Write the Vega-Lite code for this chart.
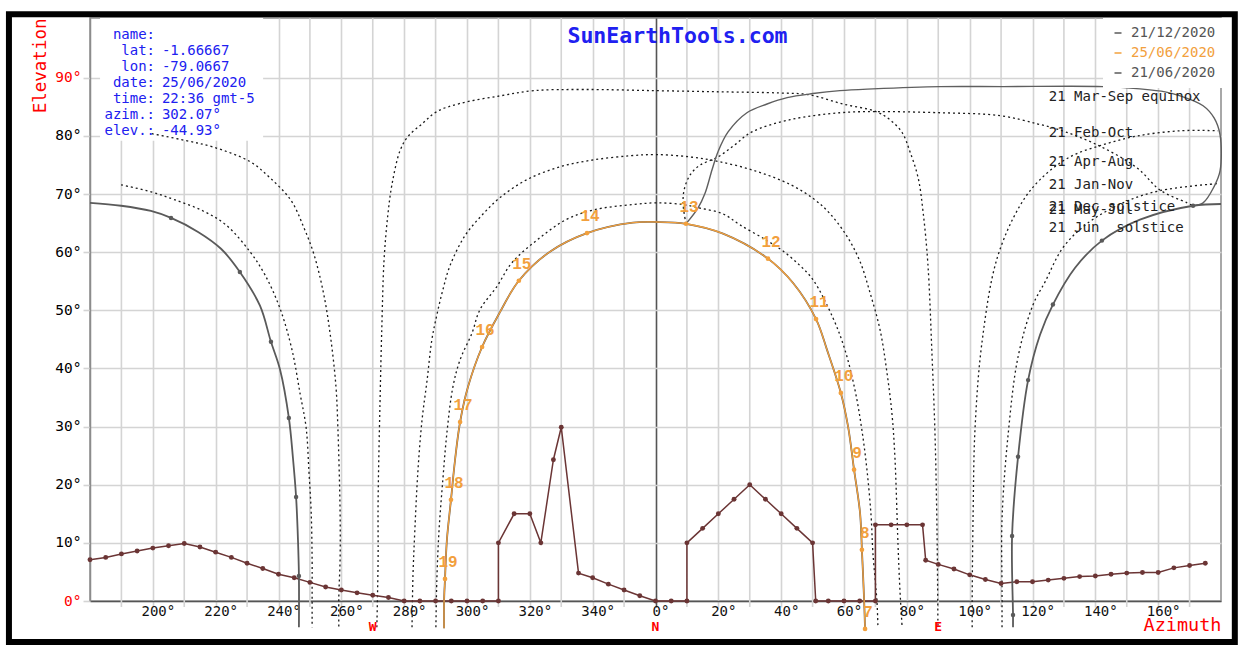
{
  "$schema": "https://vega.github.io/schema/vega-lite/v6.json",
  "width": 1131,
  "height": 583,
  "autosize": {"type": "none"},
  "padding": {"left": 90, "top": 18, "right": 18, "bottom": 44},
  "background": "white",
  "config": {
    "view": {"stroke": "#8c8c8c", "strokeWidth": 1.5},
    "font": "DejaVu Sans Mono",
    "axis": {"labelFont": "DejaVu Sans Mono", "titleFont": "DejaVu Sans Mono"}
  },
  "title": {"text": "SunEarthTools.com", "color": "#2020f0", "font": "DejaVu Sans Mono", "fontSize": 21.5, "fontWeight": "bold", "anchor": "middle", "frame": "group", "dx": 22, "offset": -47, "baseline": "middle"},
  "datasets": {
    "sun": [
      {"series": "25/06/2020", "part": "A", "i": 0, "az": 66.7, "el": -4.8, "hour": 7},
      {"series": "25/06/2020", "part": "A", "i": 1, "az": 66.4, "el": 0.2},
      {"series": "25/06/2020", "part": "A", "i": 2, "az": 65.7, "el": 8.8, "hour": 8},
      {"series": "25/06/2020", "part": "A", "i": 3, "az": 65.1, "el": 15.2},
      {"series": "25/06/2020", "part": "A", "i": 4, "az": 63.2, "el": 22.6, "hour": 9},
      {"series": "25/06/2020", "part": "A", "i": 5, "az": 61.3, "el": 30.0},
      {"series": "25/06/2020", "part": "A", "i": 6, "az": 59.0, "el": 35.8, "hour": 10},
      {"series": "25/06/2020", "part": "A", "i": 7, "az": 54.6, "el": 43.2},
      {"series": "25/06/2020", "part": "A", "i": 8, "az": 51.1, "el": 48.5, "hour": 11},
      {"series": "25/06/2020", "part": "A", "i": 9, "az": 43.8, "el": 54.7},
      {"series": "25/06/2020", "part": "A", "i": 10, "az": 35.8, "el": 58.9, "hour": 12},
      {"series": "25/06/2020", "part": "A", "i": 11, "az": 21.5, "el": 63.2},
      {"series": "25/06/2020", "part": "A", "i": 12, "az": 9.7, "el": 64.9, "hour": 13},
      {"series": "25/06/2020", "part": "A", "i": 13, "az": 0.5, "el": 65.2},
      {"series": "25/06/2020", "part": "A", "i": 14, "az": -7.2, "el": 65.1},
      {"series": "25/06/2020", "part": "A", "i": 15, "az": -21.8, "el": 63.3, "hour": 14},
      {"series": "25/06/2020", "part": "A", "i": 16, "az": -33.6, "el": 60.1},
      {"series": "25/06/2020", "part": "A", "i": 17, "az": -43.5, "el": 55.1, "hour": 15},
      {"series": "25/06/2020", "part": "A", "i": 18, "az": -49.5, "el": 49.7},
      {"series": "25/06/2020", "part": "A", "i": 19, "az": -55.2, "el": 43.7, "hour": 16},
      {"series": "25/06/2020", "part": "A", "i": 20, "az": -59.7, "el": 36.8},
      {"series": "25/06/2020", "part": "A", "i": 21, "az": -62.2, "el": 30.8, "hour": 17},
      {"series": "25/06/2020", "part": "A", "i": 22, "az": -63.8, "el": 24.3},
      {"series": "25/06/2020", "part": "A", "i": 23, "az": -65.1, "el": 17.4, "hour": 18},
      {"series": "25/06/2020", "part": "A", "i": 24, "az": -66.4, "el": 10.5},
      {"series": "25/06/2020", "part": "A", "i": 25, "az": -67.0, "el": 3.8, "hour": 19},
      {"series": "25/06/2020", "part": "A", "i": 26, "az": -67.3, "el": 0.0},
      {"series": "25/06/2020", "part": "A", "i": 27, "az": -67.3, "el": -4.7},
      {"series": "21/06/2020", "part": "A", "i": 0, "az": 66.7, "el": -4.8},
      {"series": "21/06/2020", "part": "A", "i": 1, "az": 66.4, "el": 0.2},
      {"series": "21/06/2020", "part": "A", "i": 2, "az": 65.7, "el": 8.8},
      {"series": "21/06/2020", "part": "A", "i": 3, "az": 65.1, "el": 15.2},
      {"series": "21/06/2020", "part": "A", "i": 4, "az": 63.2, "el": 22.6},
      {"series": "21/06/2020", "part": "A", "i": 5, "az": 61.3, "el": 30.0},
      {"series": "21/06/2020", "part": "A", "i": 6, "az": 59.0, "el": 35.8},
      {"series": "21/06/2020", "part": "A", "i": 7, "az": 54.6, "el": 43.2},
      {"series": "21/06/2020", "part": "A", "i": 8, "az": 51.1, "el": 48.5},
      {"series": "21/06/2020", "part": "A", "i": 9, "az": 43.8, "el": 54.7},
      {"series": "21/06/2020", "part": "A", "i": 10, "az": 35.8, "el": 58.9},
      {"series": "21/06/2020", "part": "A", "i": 11, "az": 21.5, "el": 63.2},
      {"series": "21/06/2020", "part": "A", "i": 12, "az": 9.7, "el": 64.9},
      {"series": "21/06/2020", "part": "A", "i": 13, "az": 0.5, "el": 65.2},
      {"series": "21/06/2020", "part": "A", "i": 14, "az": -7.2, "el": 65.1},
      {"series": "21/06/2020", "part": "A", "i": 15, "az": -21.8, "el": 63.3},
      {"series": "21/06/2020", "part": "A", "i": 16, "az": -33.6, "el": 60.1},
      {"series": "21/06/2020", "part": "A", "i": 17, "az": -43.5, "el": 55.1},
      {"series": "21/06/2020", "part": "A", "i": 18, "az": -49.5, "el": 49.7},
      {"series": "21/06/2020", "part": "A", "i": 19, "az": -55.2, "el": 43.7},
      {"series": "21/06/2020", "part": "A", "i": 20, "az": -59.7, "el": 36.8},
      {"series": "21/06/2020", "part": "A", "i": 21, "az": -62.2, "el": 30.8},
      {"series": "21/06/2020", "part": "A", "i": 22, "az": -63.8, "el": 24.3},
      {"series": "21/06/2020", "part": "A", "i": 23, "az": -65.1, "el": 17.4},
      {"series": "21/06/2020", "part": "A", "i": 24, "az": -66.4, "el": 10.5},
      {"series": "21/06/2020", "part": "A", "i": 25, "az": -67.0, "el": 3.8},
      {"series": "21/06/2020", "part": "A", "i": 26, "az": -67.3, "el": 0.0},
      {"series": "21/06/2020", "part": "A", "i": 27, "az": -67.3, "el": -4.7},
      {"series": "21/12/2020", "part": "L", "i": 0, "az": -180.0, "el": 68.5},
      {"series": "21/12/2020", "part": "L", "i": 1, "az": -170.1, "el": 68.0},
      {"series": "21/12/2020", "part": "L", "i": 2, "az": -160.6, "el": 67.1},
      {"series": "21/12/2020", "part": "L", "i": 3, "az": -154.2, "el": 65.9, "hour": 13},
      {"series": "21/12/2020", "part": "L", "i": 4, "az": -145.6, "el": 63.5},
      {"series": "21/12/2020", "part": "L", "i": 5, "az": -138.3, "el": 60.6},
      {"series": "21/12/2020", "part": "L", "i": 6, "az": -132.3, "el": 56.6, "hour": 14},
      {"series": "21/12/2020", "part": "L", "i": 7, "az": -125.9, "el": 50.8},
      {"series": "21/12/2020", "part": "L", "i": 8, "az": -122.4, "el": 44.6, "hour": 15},
      {"series": "21/12/2020", "part": "L", "i": 9, "az": -119.5, "el": 39.8},
      {"series": "21/12/2020", "part": "L", "i": 10, "az": -116.7, "el": 31.5, "hour": 16},
      {"series": "21/12/2020", "part": "L", "i": 11, "az": -115.4, "el": 24.6},
      {"series": "21/12/2020", "part": "L", "i": 12, "az": -114.4, "el": 17.9, "hour": 17},
      {"series": "21/12/2020", "part": "L", "i": 13, "az": -113.8, "el": 10.5},
      {"series": "21/12/2020", "part": "L", "i": 14, "az": -113.5, "el": 4.3, "hour": 18},
      {"series": "21/12/2020", "part": "L", "i": 15, "az": -113.5, "el": -4.5},
      {"series": "21/12/2020", "part": "R", "i": 0, "az": 113.8, "el": -4.5},
      {"series": "21/12/2020", "part": "R", "i": 1, "az": 113.8, "el": -2.4, "hour": 6},
      {"series": "21/12/2020", "part": "R", "i": 2, "az": 113.5, "el": 11.2, "hour": 7},
      {"series": "21/12/2020", "part": "R", "i": 3, "az": 115.4, "el": 24.8, "hour": 8},
      {"series": "21/12/2020", "part": "R", "i": 4, "az": 118.6, "el": 38.0, "hour": 9},
      {"series": "21/12/2020", "part": "R", "i": 5, "az": 122.4, "el": 45.8},
      {"series": "21/12/2020", "part": "R", "i": 6, "az": 126.5, "el": 51.0, "hour": 10},
      {"series": "21/12/2020", "part": "R", "i": 7, "az": 133.5, "el": 57.3},
      {"series": "21/12/2020", "part": "R", "i": 8, "az": 142.1, "el": 62.0, "hour": 11},
      {"series": "21/12/2020", "part": "R", "i": 9, "az": 154.2, "el": 65.6},
      {"series": "21/12/2020", "part": "R", "i": 10, "az": 171.1, "el": 68.0, "hour": 12},
      {"series": "21/12/2020", "part": "R", "i": 11, "az": 180.0, "el": 68.3}
    ],
    "months": [
      {"month": "Mar-Sep", "part": "A", "i": 0, "az": -88.7, "el": -4.5},
      {"month": "Mar-Sep", "part": "A", "i": 1, "az": -88.3, "el": 7.1},
      {"month": "Mar-Sep", "part": "A", "i": 2, "az": -88.3, "el": 17.0},
      {"month": "Mar-Sep", "part": "A", "i": 3, "az": -87.7, "el": 33.9},
      {"month": "Mar-Sep", "part": "A", "i": 4, "az": -87.1, "el": 47.3},
      {"month": "Mar-Sep", "part": "A", "i": 5, "az": -86.4, "el": 58.7},
      {"month": "Mar-Sep", "part": "A", "i": 6, "az": -85.2, "el": 66.4},
      {"month": "Mar-Sep", "part": "A", "i": 7, "az": -83.9, "el": 71.6},
      {"month": "Mar-Sep", "part": "A", "i": 8, "az": -81.3, "el": 77.5},
      {"month": "Mar-Sep", "part": "A", "i": 9, "az": -78.8, "el": 79.9},
      {"month": "Mar-Sep", "part": "A", "i": 10, "az": -74.3, "el": 82.1},
      {"month": "Mar-Sep", "part": "A", "i": 11, "az": -69.6, "el": 84.2},
      {"month": "Mar-Sep", "part": "A", "i": 12, "az": -62.2, "el": 85.6},
      {"month": "Mar-Sep", "part": "A", "i": 13, "az": -49.5, "el": 86.9},
      {"month": "Mar-Sep", "part": "A", "i": 14, "az": -38.7, "el": 87.8},
      {"month": "Mar-Sep", "part": "A", "i": 15, "az": -22.8, "el": 88.0},
      {"month": "Mar-Sep", "part": "A", "i": 16, "az": -0.2, "el": 87.8},
      {"month": "Mar-Sep", "part": "A", "i": 17, "az": 20.5, "el": 87.6},
      {"month": "Mar-Sep", "part": "A", "i": 18, "az": 39.6, "el": 87.4},
      {"month": "Mar-Sep", "part": "A", "i": 19, "az": 48.9, "el": 87.1},
      {"month": "Mar-Sep", "part": "A", "i": 20, "az": 59.7, "el": 85.5},
      {"month": "Mar-Sep", "part": "A", "i": 21, "az": 70.2, "el": 84.2},
      {"month": "Mar-Sep", "part": "A", "i": 22, "az": 74.6, "el": 82.8},
      {"month": "Mar-Sep", "part": "A", "i": 23, "az": 78.5, "el": 80.6},
      {"month": "Mar-Sep", "part": "A", "i": 24, "az": 81.0, "el": 77.3},
      {"month": "Mar-Sep", "part": "A", "i": 25, "az": 83.6, "el": 72.8},
      {"month": "Mar-Sep", "part": "A", "i": 26, "az": 85.2, "el": 66.8},
      {"month": "Mar-Sep", "part": "A", "i": 27, "az": 86.7, "el": 58.0},
      {"month": "Mar-Sep", "part": "A", "i": 28, "az": 88.0, "el": 42.5},
      {"month": "Mar-Sep", "part": "A", "i": 29, "az": 89.0, "el": 28.1},
      {"month": "Mar-Sep", "part": "A", "i": 30, "az": 89.6, "el": 12.2},
      {"month": "Mar-Sep", "part": "A", "i": 31, "az": 89.9, "el": -4.5},
      {"month": "Apr-Aug", "part": "A", "i": 0, "az": -77.5, "el": -4.5},
      {"month": "Apr-Aug", "part": "A", "i": 1, "az": -77.2, "el": 4.3},
      {"month": "Apr-Aug", "part": "A", "i": 2, "az": -76.6, "el": 12.2},
      {"month": "Apr-Aug", "part": "A", "i": 3, "az": -75.6, "el": 22.6},
      {"month": "Apr-Aug", "part": "A", "i": 4, "az": -74.3, "el": 31.2},
      {"month": "Apr-Aug", "part": "A", "i": 5, "az": -72.7, "el": 38.0},
      {"month": "Apr-Aug", "part": "A", "i": 6, "az": -71.2, "el": 44.9},
      {"month": "Apr-Aug", "part": "A", "i": 7, "az": -69.6, "el": 49.2},
      {"month": "Apr-Aug", "part": "A", "i": 8, "az": -67.7, "el": 53.5},
      {"month": "Apr-Aug", "part": "A", "i": 9, "az": -65.4, "el": 57.7},
      {"month": "Apr-Aug", "part": "A", "i": 10, "az": -60.7, "el": 62.8},
      {"month": "Apr-Aug", "part": "A", "i": 11, "az": -55.2, "el": 66.4},
      {"month": "Apr-Aug", "part": "A", "i": 12, "az": -49.5, "el": 69.4},
      {"month": "Apr-Aug", "part": "A", "i": 13, "az": -40.9, "el": 72.5},
      {"month": "Apr-Aug", "part": "A", "i": 14, "az": -30.4, "el": 74.7},
      {"month": "Apr-Aug", "part": "A", "i": 15, "az": -19.6, "el": 75.9},
      {"month": "Apr-Aug", "part": "A", "i": 16, "az": -8.1, "el": 76.6},
      {"month": "Apr-Aug", "part": "A", "i": 17, "az": 0.2, "el": 76.8},
      {"month": "Apr-Aug", "part": "A", "i": 18, "az": 11.0, "el": 76.4},
      {"month": "Apr-Aug", "part": "A", "i": 19, "az": 20.2, "el": 75.6},
      {"month": "Apr-Aug", "part": "A", "i": 20, "az": 31.7, "el": 74.0},
      {"month": "Apr-Aug", "part": "A", "i": 21, "az": 43.1, "el": 71.6},
      {"month": "Apr-Aug", "part": "A", "i": 22, "az": 50.8, "el": 69.0},
      {"month": "Apr-Aug", "part": "A", "i": 23, "az": 55.6, "el": 66.6},
      {"month": "Apr-Aug", "part": "A", "i": 24, "az": 61.0, "el": 62.7},
      {"month": "Apr-Aug", "part": "A", "i": 25, "az": 65.1, "el": 58.4},
      {"month": "Apr-Aug", "part": "A", "i": 26, "az": 68.3, "el": 53.0},
      {"month": "Apr-Aug", "part": "A", "i": 27, "az": 71.5, "el": 46.6},
      {"month": "Apr-Aug", "part": "A", "i": 28, "az": 73.7, "el": 39.2},
      {"month": "Apr-Aug", "part": "A", "i": 29, "az": 75.3, "el": 32.0},
      {"month": "Apr-Aug", "part": "A", "i": 30, "az": 76.2, "el": 24.8},
      {"month": "Apr-Aug", "part": "A", "i": 31, "az": 77.2, "el": 9.6},
      {"month": "Apr-Aug", "part": "A", "i": 32, "az": 77.8, "el": 1.9},
      {"month": "Apr-Aug", "part": "A", "i": 33, "az": 78.5, "el": -4.5},
      {"month": "May-Jul", "part": "A", "i": 0, "az": -69.9, "el": -4.5},
      {"month": "May-Jul", "part": "A", "i": 1, "az": -69.6, "el": 3.6},
      {"month": "May-Jul", "part": "A", "i": 2, "az": -68.9, "el": 12.2},
      {"month": "May-Jul", "part": "A", "i": 3, "az": -67.7, "el": 20.8},
      {"month": "May-Jul", "part": "A", "i": 4, "az": -66.4, "el": 28.9},
      {"month": "May-Jul", "part": "A", "i": 5, "az": -64.5, "el": 36.8},
      {"month": "May-Jul", "part": "A", "i": 6, "az": -62.2, "el": 41.5},
      {"month": "May-Jul", "part": "A", "i": 7, "az": -58.4, "el": 46.1},
      {"month": "May-Jul", "part": "A", "i": 8, "az": -55.9, "el": 50.1},
      {"month": "May-Jul", "part": "A", "i": 9, "az": -50.5, "el": 54.1},
      {"month": "May-Jul", "part": "A", "i": 10, "az": -45.7, "el": 58.2},
      {"month": "May-Jul", "part": "A", "i": 11, "az": -37.7, "el": 62.1},
      {"month": "May-Jul", "part": "A", "i": 12, "az": -28.5, "el": 65.6},
      {"month": "May-Jul", "part": "A", "i": 13, "az": -19.6, "el": 67.3},
      {"month": "May-Jul", "part": "A", "i": 14, "az": -7.2, "el": 68.2},
      {"month": "May-Jul", "part": "A", "i": 15, "az": 0.5, "el": 68.5},
      {"month": "May-Jul", "part": "A", "i": 16, "az": 8.8, "el": 68.2},
      {"month": "May-Jul", "part": "A", "i": 17, "az": 14.2, "el": 67.6},
      {"month": "May-Jul", "part": "A", "i": 18, "az": 21.5, "el": 66.6},
      {"month": "May-Jul", "part": "A", "i": 19, "az": 26.9, "el": 64.7},
      {"month": "May-Jul", "part": "A", "i": 20, "az": 35.2, "el": 62.1},
      {"month": "May-Jul", "part": "A", "i": 21, "az": 40.6, "el": 60.2},
      {"month": "May-Jul", "part": "A", "i": 22, "az": 46.0, "el": 57.7},
      {"month": "May-Jul", "part": "A", "i": 23, "az": 50.1, "el": 55.3},
      {"month": "May-Jul", "part": "A", "i": 24, "az": 56.5, "el": 48.7},
      {"month": "May-Jul", "part": "A", "i": 25, "az": 60.3, "el": 43.2},
      {"month": "May-Jul", "part": "A", "i": 26, "az": 63.5, "el": 36.3},
      {"month": "May-Jul", "part": "A", "i": 27, "az": 65.7, "el": 29.4},
      {"month": "May-Jul", "part": "A", "i": 28, "az": 67.3, "el": 22.6},
      {"month": "May-Jul", "part": "A", "i": 29, "az": 68.6, "el": 14.8},
      {"month": "May-Jul", "part": "A", "i": 30, "az": 69.2, "el": 8.3},
      {"month": "May-Jul", "part": "A", "i": 31, "az": 70.5, "el": -0.2},
      {"month": "May-Jul", "part": "A", "i": 32, "az": 70.8, "el": -4.5},
      {"month": "Jan-Nov", "part": "L", "i": 0, "az": -170.1, "el": 71.6},
      {"month": "Jan-Nov", "part": "L", "i": 1, "az": -160.6, "el": 70.4},
      {"month": "Jan-Nov", "part": "L", "i": 2, "az": -152.9, "el": 69.0},
      {"month": "Jan-Nov", "part": "L", "i": 3, "az": -144.0, "el": 67.1},
      {"month": "Jan-Nov", "part": "L", "i": 4, "az": -136.7, "el": 64.7},
      {"month": "Jan-Nov", "part": "L", "i": 5, "az": -129.1, "el": 60.1},
      {"month": "Jan-Nov", "part": "L", "i": 6, "az": -124.3, "el": 56.1},
      {"month": "Jan-Nov", "part": "L", "i": 7, "az": -119.5, "el": 50.3},
      {"month": "Jan-Nov", "part": "L", "i": 8, "az": -115.7, "el": 43.2},
      {"month": "Jan-Nov", "part": "L", "i": 9, "az": -113.1, "el": 35.6},
      {"month": "Jan-Nov", "part": "L", "i": 10, "az": -111.2, "el": 29.8},
      {"month": "Jan-Nov", "part": "L", "i": 11, "az": -110.3, "el": 22.2},
      {"month": "Jan-Nov", "part": "L", "i": 12, "az": -109.6, "el": 15.3},
      {"month": "Jan-Nov", "part": "L", "i": 13, "az": -109.3, "el": 7.1},
      {"month": "Jan-Nov", "part": "L", "i": 14, "az": -109.3, "el": 1.4},
      {"month": "Jan-Nov", "part": "L", "i": 15, "az": -109.3, "el": -4.5},
      {"month": "Jan-Nov", "part": "R", "i": 0, "az": 110.3, "el": -4.5},
      {"month": "Jan-Nov", "part": "R", "i": 1, "az": 110.3, "el": 1.9},
      {"month": "Jan-Nov", "part": "R", "i": 2, "az": 110.3, "el": 14.1},
      {"month": "Jan-Nov", "part": "R", "i": 3, "az": 112.2, "el": 28.4},
      {"month": "Jan-Nov", "part": "R", "i": 4, "az": 115.4, "el": 42.0},
      {"month": "Jan-Nov", "part": "R", "i": 5, "az": 120.2, "el": 51.0},
      {"month": "Jan-Nov", "part": "R", "i": 6, "az": 124.0, "el": 54.9},
      {"month": "Jan-Nov", "part": "R", "i": 7, "az": 129.7, "el": 60.8},
      {"month": "Jan-Nov", "part": "R", "i": 8, "az": 137.3, "el": 64.9},
      {"month": "Jan-Nov", "part": "R", "i": 9, "az": 148.8, "el": 68.5},
      {"month": "Jan-Nov", "part": "R", "i": 10, "az": 160.6, "el": 70.6},
      {"month": "Jan-Nov", "part": "R", "i": 11, "az": 178.7, "el": 71.8},
      {"month": "Feb-Oct", "part": "L", "i": 0, "az": -160.3, "el": 80.4},
      {"month": "Feb-Oct", "part": "L", "i": 1, "az": -149.4, "el": 79.2},
      {"month": "Feb-Oct", "part": "L", "i": 2, "az": -140.8, "el": 78.1},
      {"month": "Feb-Oct", "part": "L", "i": 3, "az": -129.1, "el": 75.6},
      {"month": "Feb-Oct", "part": "L", "i": 4, "az": -122.7, "el": 72.8},
      {"month": "Feb-Oct", "part": "L", "i": 5, "az": -116.0, "el": 68.9},
      {"month": "Feb-Oct", "part": "L", "i": 6, "az": -111.9, "el": 64.2},
      {"month": "Feb-Oct", "part": "L", "i": 7, "az": -108.7, "el": 59.6},
      {"month": "Feb-Oct", "part": "L", "i": 8, "az": -105.5, "el": 52.5},
      {"month": "Feb-Oct", "part": "L", "i": 9, "az": -103.3, "el": 44.9},
      {"month": "Feb-Oct", "part": "L", "i": 10, "az": -101.7, "el": 36.8},
      {"month": "Feb-Oct", "part": "L", "i": 11, "az": -101.1, "el": 29.8},
      {"month": "Feb-Oct", "part": "L", "i": 12, "az": -100.4, "el": 15.3},
      {"month": "Feb-Oct", "part": "L", "i": 13, "az": -100.4, "el": 7.1},
      {"month": "Feb-Oct", "part": "L", "i": 14, "az": -100.8, "el": 0.7},
      {"month": "Feb-Oct", "part": "L", "i": 15, "az": -100.8, "el": -4.5},
      {"month": "Feb-Oct", "part": "R", "i": 0, "az": 100.8, "el": -4.5},
      {"month": "Feb-Oct", "part": "R", "i": 1, "az": 100.8, "el": 0.2},
      {"month": "Feb-Oct", "part": "R", "i": 2, "az": 101.1, "el": 15.2},
      {"month": "Feb-Oct", "part": "R", "i": 3, "az": 101.7, "el": 29.6},
      {"month": "Feb-Oct", "part": "R", "i": 4, "az": 103.9, "el": 44.4},
      {"month": "Feb-Oct", "part": "R", "i": 5, "az": 108.7, "el": 58.9},
      {"month": "Feb-Oct", "part": "R", "i": 6, "az": 116.0, "el": 68.0},
      {"month": "Feb-Oct", "part": "R", "i": 7, "az": 122.4, "el": 72.5},
      {"month": "Feb-Oct", "part": "R", "i": 8, "az": 131.9, "el": 76.4},
      {"month": "Feb-Oct", "part": "R", "i": 9, "az": 142.5, "el": 78.5},
      {"month": "Feb-Oct", "part": "R", "i": 10, "az": 153.3, "el": 80.0},
      {"month": "Feb-Oct", "part": "R", "i": 11, "az": 167.0, "el": 80.9},
      {"month": "Feb-Oct", "part": "R", "i": 12, "az": 179.1, "el": 80.9}
    ],
    "analemma": [
      {"kind": "solid", "i": 0, "az": 9.7, "el": 64.9},
      {"kind": "solid", "i": 1, "az": 13.5, "el": 67.6},
      {"kind": "solid", "i": 2, "az": 15.8, "el": 70.2},
      {"kind": "solid", "i": 3, "az": 18.0, "el": 74.2},
      {"kind": "solid", "i": 4, "az": 19.9, "el": 77.3},
      {"kind": "solid", "i": 5, "az": 23.1, "el": 80.7},
      {"kind": "solid", "i": 6, "az": 29.1, "el": 84.0},
      {"kind": "solid", "i": 7, "az": 35.5, "el": 85.5},
      {"kind": "solid", "i": 8, "az": 41.9, "el": 86.6},
      {"kind": "solid", "i": 9, "az": 50.1, "el": 87.3},
      {"kind": "solid", "i": 10, "az": 58.7, "el": 87.8},
      {"kind": "solid", "i": 11, "az": 69.2, "el": 88.1},
      {"kind": "solid", "i": 12, "az": 90.6, "el": 88.5},
      {"kind": "solid", "i": 13, "az": 110.6, "el": 88.5},
      {"kind": "solid", "i": 14, "az": 142.5, "el": 88.5},
      {"kind": "solid", "i": 15, "az": 154.2, "el": 88.1},
      {"kind": "solid", "i": 16, "az": 162.2, "el": 87.6},
      {"kind": "solid", "i": 17, "az": 167.0, "el": 86.9},
      {"kind": "solid", "i": 18, "az": 174.3, "el": 85.2},
      {"kind": "solid", "i": 19, "az": 177.8, "el": 83.1},
      {"kind": "solid", "i": 20, "az": 179.7, "el": 80.2},
      {"kind": "solid", "i": 21, "az": 179.7, "el": 74.0},
      {"kind": "solid", "i": 22, "az": 177.8, "el": 71.3},
      {"kind": "solid", "i": 23, "az": 174.3, "el": 68.5},
      {"kind": "solid", "i": 24, "az": 171.1, "el": 68.0},
      {"kind": "dotted", "i": 0, "az": 9.7, "el": 64.9},
      {"kind": "dotted", "i": 1, "az": 8.8, "el": 68.2},
      {"kind": "dotted", "i": 2, "az": 9.1, "el": 70.7},
      {"kind": "dotted", "i": 3, "az": 11.0, "el": 73.3},
      {"kind": "dotted", "i": 4, "az": 14.2, "el": 75.0},
      {"kind": "dotted", "i": 5, "az": 19.9, "el": 76.4},
      {"kind": "dotted", "i": 6, "az": 25.3, "el": 78.5},
      {"kind": "dotted", "i": 7, "az": 30.7, "el": 80.7},
      {"kind": "dotted", "i": 8, "az": 42.8, "el": 82.8},
      {"kind": "dotted", "i": 9, "az": 58.7, "el": 84.0},
      {"kind": "dotted", "i": 10, "az": 70.2, "el": 84.2},
      {"kind": "dotted", "i": 11, "az": 90.6, "el": 84.0},
      {"kind": "dotted", "i": 12, "az": 109.7, "el": 83.5},
      {"kind": "dotted", "i": 13, "az": 121.4, "el": 82.1},
      {"kind": "dotted", "i": 14, "az": 127.8, "el": 81.2},
      {"kind": "dotted", "i": 15, "az": 140.5, "el": 78.5},
      {"kind": "dotted", "i": 16, "az": 153.3, "el": 74.5},
      {"kind": "dotted", "i": 17, "az": 160.6, "el": 70.7},
      {"kind": "dotted", "i": 18, "az": 169.2, "el": 68.5},
      {"kind": "dotted", "i": 19, "az": 171.1, "el": 68.0}
    ],
    "horizon": [
      {"i": 0, "az": -180, "el": 7.1}, {"i": 1, "az": -175, "el": 7.5}, {"i": 2, "az": -170, "el": 8.1},
      {"i": 3, "az": -165, "el": 8.6}, {"i": 4, "az": -160, "el": 9.1}, {"i": 5, "az": -155, "el": 9.5},
      {"i": 6, "az": -150, "el": 9.9}, {"i": 7, "az": -145, "el": 9.3}, {"i": 8, "az": -140, "el": 8.4},
      {"i": 9, "az": -135, "el": 7.5}, {"i": 10, "az": -130, "el": 6.5}, {"i": 11, "az": -125, "el": 5.6},
      {"i": 12, "az": -120, "el": 4.6}, {"i": 13, "az": -115, "el": 4.0}, {"i": 14, "az": -110, "el": 3.2},
      {"i": 15, "az": -105, "el": 2.4}, {"i": 16, "az": -100, "el": 1.9}, {"i": 17, "az": -95, "el": 1.4},
      {"i": 18, "az": -90, "el": 1.0}, {"i": 19, "az": -85, "el": 0.6}, {"i": 20, "az": -80, "el": 0},
      {"i": 21, "az": -75, "el": 0}, {"i": 22, "az": -70, "el": 0}, {"i": 23, "az": -65, "el": 0},
      {"i": 24, "az": -60, "el": 0}, {"i": 25, "az": -55, "el": 0}, {"i": 26, "az": -50, "el": 0},
      {"i": 27, "az": -50, "el": 10}, {"i": 28, "az": -45, "el": 15}, {"i": 29, "az": -40, "el": 15},
      {"i": 30, "az": -36.5, "el": 10}, {"i": 31, "az": -32.5, "el": 24.3}, {"i": 32, "az": -30, "el": 29.9},
      {"i": 33, "az": -24.5, "el": 4.8}, {"i": 34, "az": -20, "el": 4.0}, {"i": 35, "az": -15, "el": 2.9},
      {"i": 36, "az": -10, "el": 1.9}, {"i": 37, "az": -5, "el": 0.9}, {"i": 38, "az": 0, "el": 0},
      {"i": 39, "az": 5, "el": 0}, {"i": 40, "az": 10, "el": 0}, {"i": 41, "az": 10, "el": 10},
      {"i": 42, "az": 15, "el": 12.5}, {"i": 43, "az": 20, "el": 15}, {"i": 44, "az": 25, "el": 17.5},
      {"i": 45, "az": 30, "el": 20}, {"i": 46, "az": 35, "el": 17.5}, {"i": 47, "az": 40, "el": 15},
      {"i": 48, "az": 45, "el": 12.5}, {"i": 49, "az": 50, "el": 10}, {"i": 50, "az": 51, "el": 0},
      {"i": 51, "az": 55, "el": 0}, {"i": 52, "az": 60, "el": 0}, {"i": 53, "az": 65, "el": 0},
      {"i": 54, "az": 70, "el": 0}, {"i": 55, "az": 70, "el": 13.1}, {"i": 56, "az": 75, "el": 13.1},
      {"i": 57, "az": 80, "el": 13.1}, {"i": 58, "az": 85, "el": 13.1}, {"i": 59, "az": 86, "el": 7.0},
      {"i": 60, "az": 90, "el": 6.3}, {"i": 61, "az": 95, "el": 5.5}, {"i": 62, "az": 100, "el": 4.5},
      {"i": 63, "az": 105, "el": 3.7}, {"i": 64, "az": 110, "el": 3.0}, {"i": 65, "az": 115, "el": 3.3},
      {"i": 66, "az": 120, "el": 3.3}, {"i": 67, "az": 125, "el": 3.6}, {"i": 68, "az": 130, "el": 3.9},
      {"i": 69, "az": 135, "el": 4.2}, {"i": 70, "az": 140, "el": 4.3}, {"i": 71, "az": 145, "el": 4.6},
      {"i": 72, "az": 150, "el": 4.8}, {"i": 73, "az": 155, "el": 4.9}, {"i": 74, "az": 160, "el": 4.9},
      {"i": 75, "az": 165, "el": 5.7}, {"i": 76, "az": 170, "el": 6.1}, {"i": 77, "az": 175, "el": 6.5}
    ],
    "oddGrid": [
      {"az": -170}, {"az": -150}, {"az": -130}, {"az": -110}, {"az": -90}, {"az": -70}, {"az": -50}, {"az": -30}, {"az": -10},
      {"az": 10}, {"az": 30}, {"az": 50}, {"az": 70}, {"az": 90}, {"az": 110}, {"az": 130}, {"az": 150}, {"az": 170}
    ],
    "monthLabels": [
      {"label": "21 Mar-Sep equinox", "peak": 86.7},
      {"label": "21 Feb-Oct", "peak": 80.5},
      {"label": "21 Apr-Aug", "peak": 75.6},
      {"label": "21 Jan-Nov", "peak": 71.6},
      {"label": "21 Dec solstice", "peak": 67.8},
      {"label": "21 May-Jul", "peak": 67.3},
      {"label": "21 Jun\u00a0 solstice", "peak": 64.2}
    ],
    "cardinal": [
      {"label": "W", "az": -90},
      {"label": "N", "az": 0},
      {"label": "E", "az": 90}
    ]
  },
  "layer": [
    {
      "data": {"name": "oddGrid"},
      "mark": {"type": "rule", "color": "#d4d4d4", "strokeWidth": 1.6},
      "encoding": {
        "x": {"field": "az", "type": "quantitative",
          "scale": {"domain": [-180, 180], "nice": false, "zero": false},
          "axis": {
            "title": "Azimuth",
            "values": [-160, -140, -120, -100, -80, -60, -40, -20, 0, 20, 40, 60, 80, 100, 120, 140, 160],
            "labelExpr": "((datum.value + 360) % 360) + '°'",
            "grid": true,
            "gridColor": {"condition": {"test": "datum.value === 0", "value": "#555555"}, "value": "#d4d4d4"},
            "gridWidth": 1.6,
            "ticks": true, "tickSize": 6, "tickWidth": 1.6,
            "tickColor": {"condition": {"test": "datum.value === 0", "value": "#555555"}, "value": "#d4d4d4"},
            "domainColor": "#555555", "domainWidth": 1.5,
            "labelFontSize": 14, "labelColor": "#111111", "labelPadding": -2.5, "labelOffset": 5,
            "titleColor": "red", "titleFontSize": 18.5, "titleFontWeight": "normal", "titleAnchor": "end", "titlePadding": -3
          }},
        "y": {"datum": -1.03, "type": "quantitative",
          "scale": {"domain": [0, 100.3], "nice": false, "zero": false},
          "axis": {
            "title": "Elevation",
            "values": [0, 10, 20, 30, 40, 50, 60, 70, 80, 90],
            "labelExpr": "datum.value + '°'",
            "grid": true, "gridColor": "#d4d4d4", "gridWidth": 1.6,
            "ticks": true, "tickSize": 7, "tickWidth": 1.6, "tickColor": "#d4d4d4",
            "domainColor": "#8c8c8c", "domainWidth": 1.5,
            "labelFontSize": 14.5, "labelPadding": 2,
            "labelColor": {"condition": {"test": "datum.value === 0 || datum.value === 90", "value": "red"}, "value": "black"},
            "titleColor": "red", "titleFontSize": 17.5, "titleFontWeight": "normal", "titleAnchor": "end", "titlePadding": 5
          }},
        "y2": {"datum": 100.3}
      }
    },
    {
      "data": {"values": [{}]},
      "mark": {"type": "rect", "color": "white"},
      "encoding": {
        "x": {"datum": -176.8, "type": "quantitative"},
        "x2": {"datum": -124.9},
        "y": {"datum": 100.3, "type": "quantitative"},
        "y2": {"datum": 79.2}
      }
    },
    {
      "data": {"values": [{}]},
      "mark": {"type": "rect", "filled": false, "stroke": "black", "strokeWidth": 6},
      "encoding": {
        "x": {"datum": -205.8, "type": "quantitative"},
        "x2": {"datum": 184.4},
        "y": {"datum": 100.95, "type": "quantitative"},
        "y2": {"datum": -7.06}
      }
    },
    {
      "data": {"name": "months"},
      "mark": {"type": "line", "color": "#1a1a1a", "strokeWidth": 1.3, "strokeDash": [2, 3], "interpolate": "catmull-rom"},
      "encoding": {
        "x": {"field": "az", "type": "quantitative"},
        "y": {"field": "el", "type": "quantitative"},
        "detail": [{"field": "month", "type": "nominal"}, {"field": "part", "type": "nominal"}],
        "order": {"field": "i", "type": "quantitative"}
      }
    },
    {
      "data": {"name": "analemma"},
      "transform": [{"filter": "datum.kind === 'dotted'"}],
      "mark": {"type": "line", "color": "#1a1a1a", "strokeWidth": 1.3, "strokeDash": [2, 3], "interpolate": "catmull-rom"},
      "encoding": {
        "x": {"field": "az", "type": "quantitative"},
        "y": {"field": "el", "type": "quantitative"},
        "order": {"field": "i", "type": "quantitative"}
      }
    },
    {
      "data": {"name": "analemma"},
      "transform": [{"filter": "datum.kind === 'solid'"}],
      "mark": {"type": "line", "color": "#5f5f5f", "strokeWidth": 1.4, "interpolate": "catmull-rom"},
      "encoding": {
        "x": {"field": "az", "type": "quantitative"},
        "y": {"field": "el", "type": "quantitative"},
        "order": {"field": "i", "type": "quantitative"}
      }
    },
    {
      "data": {"name": "horizon"},
      "mark": {"type": "line", "color": "#6b3535", "strokeWidth": 1.5, "point": {"filled": true, "size": 24, "color": "#6b3535"}},
      "encoding": {
        "x": {"field": "az", "type": "quantitative"},
        "y": {"field": "el", "type": "quantitative"},
        "order": {"field": "i", "type": "quantitative"}
      }
    },
    {
      "data": {"name": "sun"},
      "transform": [{"filter": "datum.series !== '25/06/2020'"}],
      "mark": {"type": "line", "strokeWidth": 1.8, "interpolate": "catmull-rom"},
      "encoding": {
        "x": {"field": "az", "type": "quantitative"},
        "y": {"field": "el", "type": "quantitative"},
        "color": {"field": "series", "type": "nominal",
          "scale": {"domain": ["21/12/2020", "25/06/2020", "21/06/2020"], "range": ["#5a5a5a", "#f2a03d", "#5a5a5a"]},
          "legend": {
            "title": null, "orient": "none", "legendX": 1013, "legendY": 0,
            "fillColor": "white", "padding": 8, "rowPadding": 6,
            "symbolType": "stroke", "symbolSize": 49, "symbolStrokeWidth": 1.5,
            "labelFont": "DejaVu Sans Mono", "labelFontSize": 14, "labelOffset": 6, "labelColor": "#555555",
            "encode": {"labels": {"update": {"fill": {"signal": "datum.value === '25/06/2020' ? '#f2a03d' : '#555555'"}}}}
          }},
        "detail": {"field": "part", "type": "nominal"},
        "order": {"field": "i", "type": "quantitative"}
      }
    },
    {
      "data": {"name": "sun"},
      "transform": [{"filter": "datum.series === '21/12/2020' && isValid(datum.hour)"}],
      "mark": {"type": "point", "filled": true, "size": 20, "color": "#5a5a5a", "opacity": 1},
      "encoding": {
        "x": {"field": "az", "type": "quantitative"},
        "y": {"field": "el", "type": "quantitative"}
      }
    },
    {
      "data": {"name": "sun"},
      "transform": [{"filter": "datum.series === '25/06/2020'"}],
      "mark": {"type": "line", "strokeWidth": 1.3, "interpolate": "catmull-rom"},
      "encoding": {
        "x": {"field": "az", "type": "quantitative"},
        "y": {"field": "el", "type": "quantitative"},
        "color": {"field": "series", "type": "nominal",
          "scale": {"domain": ["21/12/2020", "25/06/2020", "21/06/2020"], "range": ["#5a5a5a", "#f2a03d", "#5a5a5a"]}},
        "order": {"field": "i", "type": "quantitative"}
      }
    },
    {
      "data": {"name": "sun"},
      "transform": [{"filter": "datum.series === '25/06/2020' && isValid(datum.hour)"}],
      "mark": {"type": "point", "filled": true, "size": 22, "color": "#f2a03d", "opacity": 1},
      "encoding": {
        "x": {"field": "az", "type": "quantitative"},
        "y": {"field": "el", "type": "quantitative"}
      }
    },
    {
      "data": {"name": "sun"},
      "transform": [{"filter": "datum.series === '25/06/2020' && isValid(datum.hour)"}],
      "mark": {"type": "text", "dx": 3, "dy": -17, "font": "Liberation Mono", "fontWeight": "bold", "fontSize": 16, "color": "#f2a03d"},
      "encoding": {
        "x": {"field": "az", "type": "quantitative"},
        "y": {"field": "el", "type": "quantitative"},
        "text": {"field": "hour", "type": "nominal"}
      }
    },
    {
      "data": {"name": "monthLabels"},
      "mark": {"type": "text", "align": "left", "baseline": "middle", "font": "DejaVu Sans Mono", "fontSize": 14, "color": "#222222"},
      "encoding": {
        "x": {"datum": 125.2, "type": "quantitative"},
        "y": {"field": "peak", "type": "quantitative"},
        "text": {"field": "label", "type": "nominal"}
      }
    },
    {
      "data": {"values": [{}]},
      "mark": {"type": "text", "text": ["name:", "lat:", "lon:", "date:", "time:", "azim.:", "elev.:"], "align": "right", "baseline": "top", "lineHeight": 16, "font": "DejaVu Sans Mono", "fontSize": 14, "color": "#2020f0"},
      "encoding": {
        "x": {"datum": -159.3, "type": "quantitative"},
        "y": {"datum": 98.6, "type": "quantitative"}
      }
    },
    {
      "data": {"values": [{}]},
      "mark": {"type": "text", "text": ["\u00a0", "-1.66667", "-79.0667", "25/06/2020", "22:36 gmt-5", "302.07°", "-44.93°"], "align": "left", "baseline": "top", "lineHeight": 16, "font": "DejaVu Sans Mono", "fontSize": 14, "color": "#2020f0"},
      "encoding": {
        "x": {"datum": -157.1, "type": "quantitative"},
        "y": {"datum": 98.6, "type": "quantitative"}
      }
    },
    {
      "data": {"name": "cardinal"},
      "mark": {"type": "text", "baseline": "middle", "font": "DejaVu Sans Mono", "fontWeight": "bold", "fontSize": 13, "color": "red"},
      "encoding": {
        "x": {"field": "az", "type": "quantitative"},
        "y": {"datum": -4.45, "type": "quantitative"},
        "text": {"field": "label", "type": "nominal"}
      }
    }
  ]
}
